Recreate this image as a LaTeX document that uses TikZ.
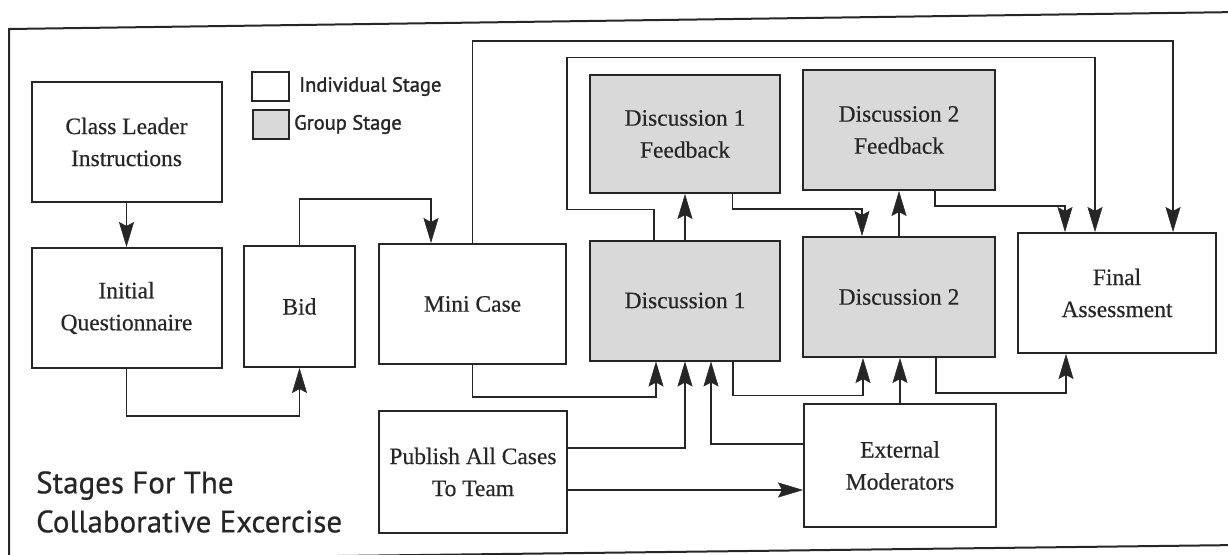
\documentclass[tikz,border=0pt]{standalone}
\usepackage{fontspec}
\setmainfont{Liberation Serif}[FakeBold=0.4]
\newfontfamily\keyfont{PT Sans}[FakeBold=1.4]
\newfontfamily\captionfont{PT Sans}[FakeBold=0.6]
\usetikzlibrary{arrows.meta,positioning,calc}

\tikzset{
  stage/.style={draw=black!85, line width=2pt, fill=white, inner sep=2pt, align=center,
    text=black!85, font=\fontsize{23.5}{32}\selectfont},
  indiv/.style={stage, minimum width=190pt, minimum height=120pt},
  grp/.style={indiv, fill=black!15},
  keytext/.style={inner sep=0pt, text=black!85, font=\keyfont\fontsize{20.5}{24}\selectfont},
  flow/.style={draw=black!85, line width=1.8pt,
    -{Stealth[length=25pt,width=15pt,inset=4pt,line width=0.5pt]}},
}

\begin{document}
\begin{tikzpicture}[x=1pt,y=1pt,yscale=-1]
    \useasboundingbox (0,0) rectangle (1228,554);

    % frame, runs off the right edge
    \draw[black!85, line width=2pt] (1240,12) -- (9,29) -- (9,562);
    \draw[black!85, line width=2pt] (9,560) -- (1240,545);

    % Individual stages
    \node[indiv] (lead) at (126.5,142) {Class Leader\\Instructions};
    \node[indiv] (quest) at (126.5,308) {Initial\\Questionnaire};
    \node[indiv, minimum width=111pt, minimum height=121pt] (bid) at (299.5,306.5) {Bid};
    \node[indiv, minimum width=187pt] (mini) at (472.5,304) {Mini Case};
    \node[indiv, minimum width=188pt, minimum height=122pt] (pub) at (473,472) {Publish All Cases\\To Team};
    \node[indiv, minimum width=192pt, minimum height=123pt] (ext) at (900,465.5) {External\\Moderators};
    \node[indiv, minimum width=198pt] (final) at (1117,293) {Final\\Assessment};

    % Group stages
    \node[grp] (disA) at (685,300.5) {Discussion 1};
    \node[grp, minimum height=118pt] (fbA) at (685,134) {Discussion 1\\Feedback};
    \node[grp, minimum width=192pt] (disB) at (899,297) {Discussion 2};
    \node[grp, minimum width=192pt] (fbB) at (899,130) {Discussion 2\\Feedback};

    % Key
    \node[indiv, minimum width=37pt, minimum height=29pt] (keyInd) at (270.5,86.5) {};
    \node[grp, minimum width=36pt, minimum height=29pt] (keyGrp) at (271,124.5) {};
    \node[keytext, right=9pt of keyInd] (keyIndTxt) {Individual Stage};
    \node[keytext, right=4pt of keyGrp] (keyGrpTxt) {Group Stage};

    % Title
    \node[keytext, anchor=west, align=left, font=\captionfont\fontsize{31}{39}\selectfont] (caption)
        at (36,502) {Stages For The\\Collaborative Excercise};

    % Connectors
    \draw[flow] (lead) -- (quest);
    \draw[flow] (quest.south) -- ++(0,47) -| (bid.south);
    \draw[flow] (bid.north) -- ++(0,-46) -| ($(mini.north)+(-41.5,0)$);
    \draw[flow] (mini.north) -- ++(0,-202) -| ($(final.north)+(56,0)$);
    \draw[flow] ($(disA.north)+(-31,0)$) -- ++(0,-30) -- ++(-87,0) -- ++(0,-152)
        -| ($(final.north)+(-22,0)$);
    \draw[flow] (disA) -- (fbA);
    \draw[flow] ($(fbA.south)+(47.5,0)$) -- ++(0,15) -| ($(disB.north)+(-37,0)$);
    \draw[flow] (disB) -- (fbB);
    \draw[flow] ($(fbB.south)+(36,0)$) -- ++(0,15) -| ($(final.north)+(-52,0)$);

    \draw[flow] (mini.south) -- ++(0,32) -| ($(disA.south)+(-29,0)$);
    \draw[flow] ($(pub.east)+(0,-24)$) -| (disA.south);
    \draw[flow] ($(ext.west)+(0,-21.5)$) -| ($(disA.south)+(26,0)$);
    \coordinate (pubOut) at ($(pub.east)+(0,18)$);
    \draw[flow] (pubOut) -- (pubOut -| ext.west);
    \draw[flow] ($(disA.south)+(48,0)$) -- ++(0,34) -| ($(disB.south)+(-36,0)$);
    \draw[flow] (ext) -- (ext.north |- disB.south);
    \draw[flow] ($(disB.south)+(37,0)$) -- ++(0,35) -| ($(final.south)+(-51,0)$);
\end{tikzpicture}
\end{document}
